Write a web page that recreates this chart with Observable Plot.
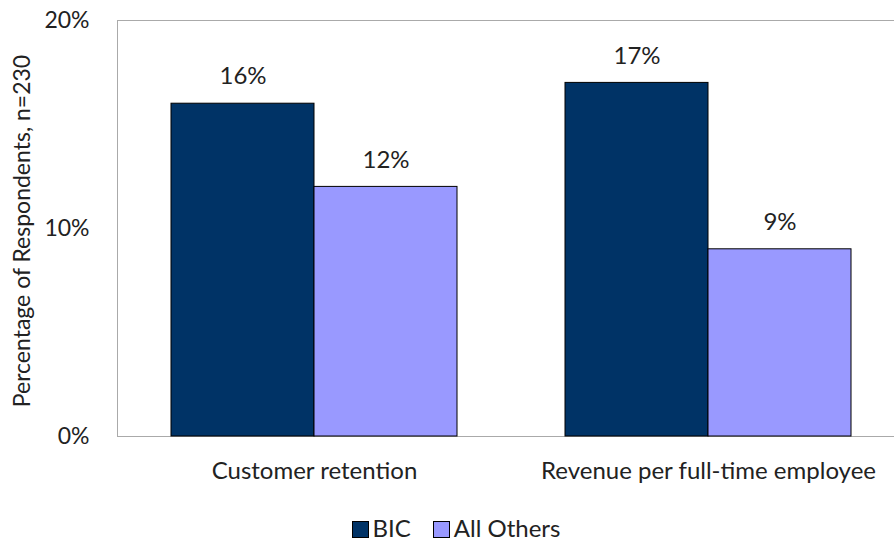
<!DOCTYPE html>
<html><head><meta charset="utf-8">
<script src="https://cdn.jsdelivr.net/npm/d3@7"></script>
<script src="https://cdn.jsdelivr.net/npm/@observablehq/plot@0.6"></script>
<style>
body{margin:0;background:#fff;font-family:Lato,"Open Sans",sans-serif;}
#legend{display:flex;justify-content:center;align-items:center;gap:22px;font-size:24px;color:#222;height:40px;margin-top:7px;margin-left:18px;}
#legend span.sw{display:inline-block;width:15px;height:15px;border:1px solid #000;margin-right:4px;vertical-align:-1px;}
</style></head>
<body>
<div id="chart"></div>
<div id="legend"></div>
<script>
const categories = ["Customer retention", "Revenue per full-time employee"];
const series = ["BIC", "All Others"];
const bicValues = [16, 17];
const otherValues = [12, 9];
const yTicks = [0, 10, 20];
const colors = ["#003366", "#9999FF"];

const data = [];
categories.forEach((c, i) => {
  data.push({category: c, series: series[0], value: bicValues[i]});
  data.push({category: c, series: series[1], value: otherValues[i]});
});

const chart = Plot.plot({
  width: 894, height: 500,
  marginLeft: 117, marginRight: -11, marginTop: 20, marginBottom: 64,
  style: {fontFamily: "Lato, 'Open Sans', sans-serif", fontSize: "24px", color: "#222"},
  fx: {domain: categories, padding: 0, label: null, tickSize: 0, tickPadding: 25},
  x: {domain: series, paddingInner: 0, paddingOuter: 0.373, axis: null},
  y: {domain: [0, 20], label: null},
  color: {domain: series, range: colors},
  marks: [
    Plot.axisY({ticks: yTicks, tickFormat: d => d + "%", label: null, tickSize: 0, tickPadding: 28, fill: "#222", fontSize: 23}),
    Plot.ruleY([0, 20], {stroke: "#aaa"}),
    Plot.barY(data, {fx: "category", x: "series", y: "value", fill: "series", stroke: "#000", strokeWidth: 1}),
    Plot.text(data, {fx: "category", x: "series", y: "value", text: d => d.value + "%", dy: -27, fontSize: 24, fill: "#222"})
  ]
});
document.getElementById("chart").appendChild(chart);

const svg = d3.select(chart);
// left border of plot area, from the library's scales
const ys = chart.scale("y"), fxs = chart.scale("fx");
svg.append("line")
  .attr("x1", fxs.range[0] + 0.5).attr("x2", fxs.range[0] + 0.5)
  .attr("y1", ys.range[0] + 0.5).attr("y2", ys.range[1] + 0.5)
  .attr("stroke", "#aaa");

// y-axis title
svg.append("text")
  .attr("transform", "translate(24,231) rotate(-90)")
  .attr("text-anchor", "middle").attr("dominant-baseline", "middle")
  .attr("font-size", 23).attr("fill", "#222")
  .text("Percentage of Respondents, n=230");

const lg = document.getElementById("legend");
series.forEach((s, i) => {
  const item = document.createElement("div");
  item.innerHTML = `<span class="sw" style="background:${colors[i]}"></span>${s}`;
  lg.appendChild(item);
});
</script>
</body></html>
